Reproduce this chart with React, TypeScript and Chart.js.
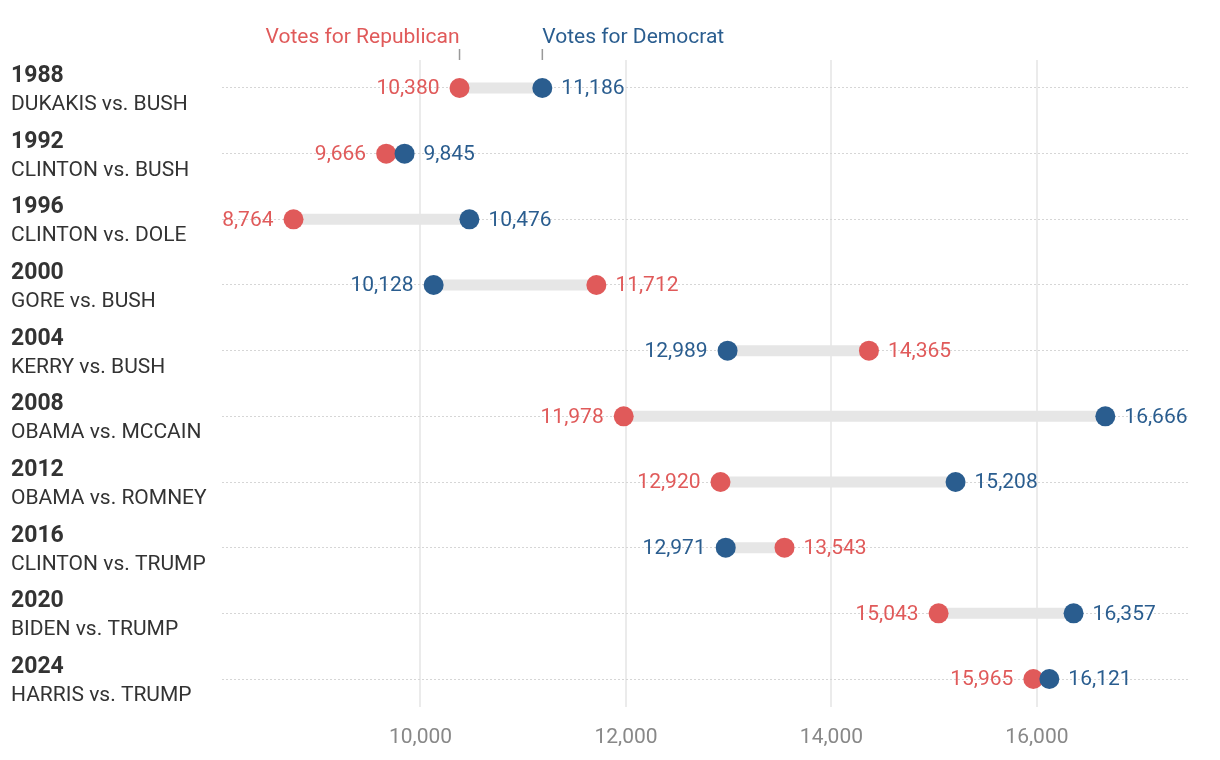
import React, { useEffect, useRef } from "react";
import { Chart, registerables } from "chart.js";

Chart.register(...registerables);

const years = ["1988", "1992", "1996", "2000", "2004", "2008", "2012", "2016", "2020", "2024"];
const matchups = [
  "DUKAKIS vs. BUSH",
  "CLINTON vs. BUSH",
  "CLINTON vs. DOLE",
  "GORE vs. BUSH",
  "KERRY vs. BUSH",
  "OBAMA vs. MCCAIN",
  "OBAMA vs. ROMNEY",
  "CLINTON vs. TRUMP",
  "BIDEN vs. TRUMP",
  "HARRIS vs. TRUMP",
];
const demVotes = [11186, 9845, 10476, 10128, 12989, 16666, 15208, 12971, 16357, 16121];
const repVotes = [10380, 9666, 8764, 11712, 14365, 11978, 12920, 13543, 15043, 15965];
const xTickValues = [10000, 12000, 14000, 16000];

const RED = "#e05a5a";
const BLUE = "#2a5d8f";
const DARK = "#333333";
const FONT = "Roboto";

const fmt = (v: number) => v.toLocaleString("en-US");

const labelPlugin = {
  id: "dumbbellLabels",
  afterDraw(chart: any) {
    const { ctx, scales } = chart;
    const xs = scales.x;
    const ys = scales.y;
    ctx.save();
    // value labels
    ctx.font = `21px ${FONT}`;
    ctx.textBaseline = "middle";
    years.forEach((_, i) => {
      const y = ys.getPixelForValue(i) + 1;
      const d = demVotes[i];
      const r = repVotes[i];
      const lo = Math.min(d, r);
      const hi = Math.max(d, r);
      const loColor = lo === d ? BLUE : RED;
      const hiColor = hi === d ? BLUE : RED;
      ctx.fillStyle = loColor;
      ctx.textAlign = "right";
      ctx.fillText(fmt(lo), xs.getPixelForValue(lo) - 20, y);
      ctx.fillStyle = hiColor;
      ctx.textAlign = "left";
      ctx.fillText(fmt(hi), xs.getPixelForValue(hi) + 19, y);
    });
    // category labels
    ctx.textAlign = "left";
    ctx.textBaseline = "alphabetic";
    years.forEach((yr, i) => {
      const y = ys.getPixelForValue(i);
      ctx.fillStyle = DARK;
      ctx.font = `bold 23px ${FONT}`;
      ctx.fillText(yr, 11, y - 6);
      ctx.font = `21px ${FONT}`;
      ctx.fillText(matchups[i], 11, y + 22);
    });
    // legend annotations above first row
    const rx = xs.getPixelForValue(repVotes[0]);
    const dx = xs.getPixelForValue(demVotes[0]);
    ctx.font = `21px ${FONT}`;
    ctx.textBaseline = "alphabetic";
    ctx.fillStyle = RED;
    ctx.textAlign = "right";
    ctx.fillText("Votes for Republican", rx, 43);
    ctx.fillStyle = BLUE;
    ctx.textAlign = "left";
    ctx.fillText("Votes for Democrat", dx, 43);
    ctx.strokeStyle = "#999999";
    ctx.lineWidth = 1.5;
    ctx.beginPath();
    ctx.moveTo(rx, 49);
    ctx.lineTo(rx, 60);
    ctx.moveTo(dx, 49);
    ctx.lineTo(dx, 60);
    ctx.stroke();
    ctx.restore();
  },
};

export default function App() {
  const ref = useRef<HTMLCanvasElement>(null);

  useEffect(() => {
    document.body.style.margin = "0";
    const connectors = years.map((_, i) => ({
      type: "line" as const,
      data: [
        { x: Math.min(demVotes[i], repVotes[i]), y: i },
        { x: Math.max(demVotes[i], repVotes[i]), y: i },
      ],
      borderColor: "#e6e6e6",
      borderWidth: 11,
      pointRadius: 0,
      showLine: true,
      order: 5,
    }));
    const chart = new Chart(ref.current as HTMLCanvasElement, {
      type: "scatter",
      data: {
        datasets: [
          {
            label: "Democrat",
            data: years.map((_, i) => ({ x: demVotes[i], y: i })),
            backgroundColor: BLUE,
            borderWidth: 0,
            pointRadius: 10,
            order: 0,
          },
          {
            label: "Republican",
            data: years.map((_, i) => ({ x: repVotes[i], y: i })),
            backgroundColor: RED,
            borderWidth: 0,
            pointRadius: 10,
            order: 1,
          },
          ...connectors,
        ] as any,
      },
      options: {
        animation: false,
        responsive: false,
        layout: { padding: { top: 60, right: 30, left: 0, bottom: 0 } },
        plugins: { legend: { display: false }, tooltip: { enabled: false } },
        scales: {
          x: {
            type: "linear",
            min: 8068,
            max: 17490,
            afterBuildTicks: (scale: any) => {
              scale.ticks = xTickValues.map((v) => ({ value: v }));
            },
            afterFit: (scale: any) => {
              scale.height = 53;
            },
            grid: { color: "#ebebeb", lineWidth: 2, drawTicks: false },
            border: { display: false },
            ticks: {
              color: "#888888",
              font: { family: FONT, size: 21 },
              padding: 18,
              callback: (v: any) => fmt(Number(v)),
            },
          },
          y: {
            type: "linear",
            reverse: true,
            min: -0.426,
            max: 9.426,
            afterBuildTicks: (scale: any) => {
              scale.ticks = years.map((_, i) => ({ value: i }));
            },
            afterFit: (scale: any) => {
              scale.width = 222;
            },
            grid: { color: "#d6d6d6", lineWidth: 1, drawTicks: false },
            border: { display: false, dash: [2, 2] },
            ticks: { display: false },
          },
        },
      } as any,
      plugins: [labelPlugin],
    });
    return () => chart.destroy();
  }, []);

  return (
    <div style={{ position: "absolute", left: 0, top: 0, width: 1220, height: 760, background: "#fff" }}>
      <canvas ref={ref} width={1220} height={760} style={{ display: "block" }} />
    </div>
  );
}
